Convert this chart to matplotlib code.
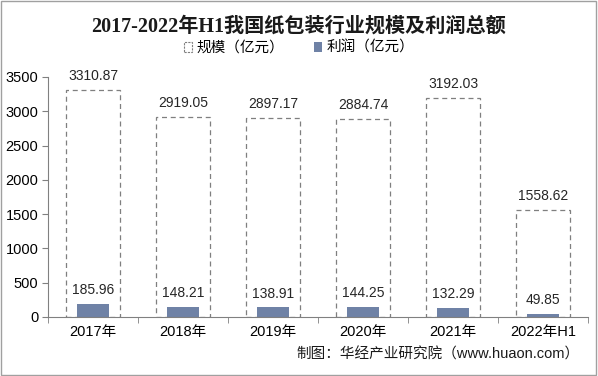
import matplotlib.pyplot as plt
from matplotlib.patches import Rectangle, Patch
import numpy as np

plt.rcParams['font.family'] = ['Liberation Sans', 'Noto Sans CJK SC', 'DejaVu Sans']

years = ['2017年', '2018年', '2019年', '2020年', '2021年', '2022年H1']
scale = [3310.87, 2919.05, 2897.17, 2884.74, 3192.03, 1558.62]
profit = [185.96, 148.21, 138.91, 144.25, 132.29, 49.85]

fig = plt.figure(figsize=(5.98, 3.76), dpi=100)
fig.patches.append(Rectangle((0.002, 0.003), 0.995, 0.994, transform=fig.transFigure,
                             fill=False, edgecolor='#a0a0a0', lw=1))
ax = fig.add_axes([48 / 598, 1 - 317 / 376, 540 / 598, 240 / 376])

x = np.arange(len(years))
ax.bar(x, scale, width=0.59, facecolor='white', edgecolor='#7f7f7f',
       linestyle=(0, (4, 3)), linewidth=0.9)
ax.bar(x, profit, width=0.35, color='#6f82a6')

for i in range(len(years)):
    ax.text(x[i], scale[i] + 100, f'{scale[i]:.2f}', ha='center', va='bottom',
            fontsize=10, color='#262626')
    ax.text(x[i], profit[i] + 100, f'{profit[i]:.2f}', ha='center', va='bottom',
            fontsize=10, color='#262626')

ax.set_xlim(-0.5, len(years) - 0.5)
ax.set_ylim(0, 3500)
ax.set_yticks(np.arange(0, 3501, 500))
ax.set_xticks(x)
ax.set_xticklabels(years, fontsize=10.5)
ax.set_xticks(np.arange(-0.5, len(years), 1), minor=True)
ax.tick_params(axis='x', which='major', length=0, pad=6)
ax.tick_params(axis='x', which='minor', length=4, color='#808080', direction='out')
ax.tick_params(axis='y', labelsize=10.5, length=4, color='#808080', pad=3)
for s in ['top', 'right']:
    ax.spines[s].set_visible(False)
for s in ['left', 'bottom']:
    ax.spines[s].set_color('#808080')

fig.text(0.5, 1 - 27 / 376, '2017-2022年H1我国纸包装行业规模及利润总额', ha='center', va='center',
         fontsize=14.5, fontweight='bold', color='#1a1a1a',
         family=['Liberation Serif', 'Noto Sans CJK SC'])

handles = [Patch(facecolor='white', edgecolor='#7f7f7f', linestyle=(0, (2, 1)), lw=0.8),
           Patch(facecolor='#6f82a6')]
fig.legend(handles, ['规模（亿元）', '利润（亿元）'], loc='center', ncol=2,
           bbox_to_anchor=(0.5, 1 - 48 / 376), frameon=False, fontsize=10.5,
           handlelength=0.6, handleheight=0.6, handletextpad=0.3, columnspacing=2.0)

fig.text(580 / 598, 1 - 355 / 376, '制图：华经产业研究院（www.huaon.com）', ha='right', va='center',
         fontsize=10.5, color='#1a1a1a')

fig.savefig('out.png', dpi=100)
